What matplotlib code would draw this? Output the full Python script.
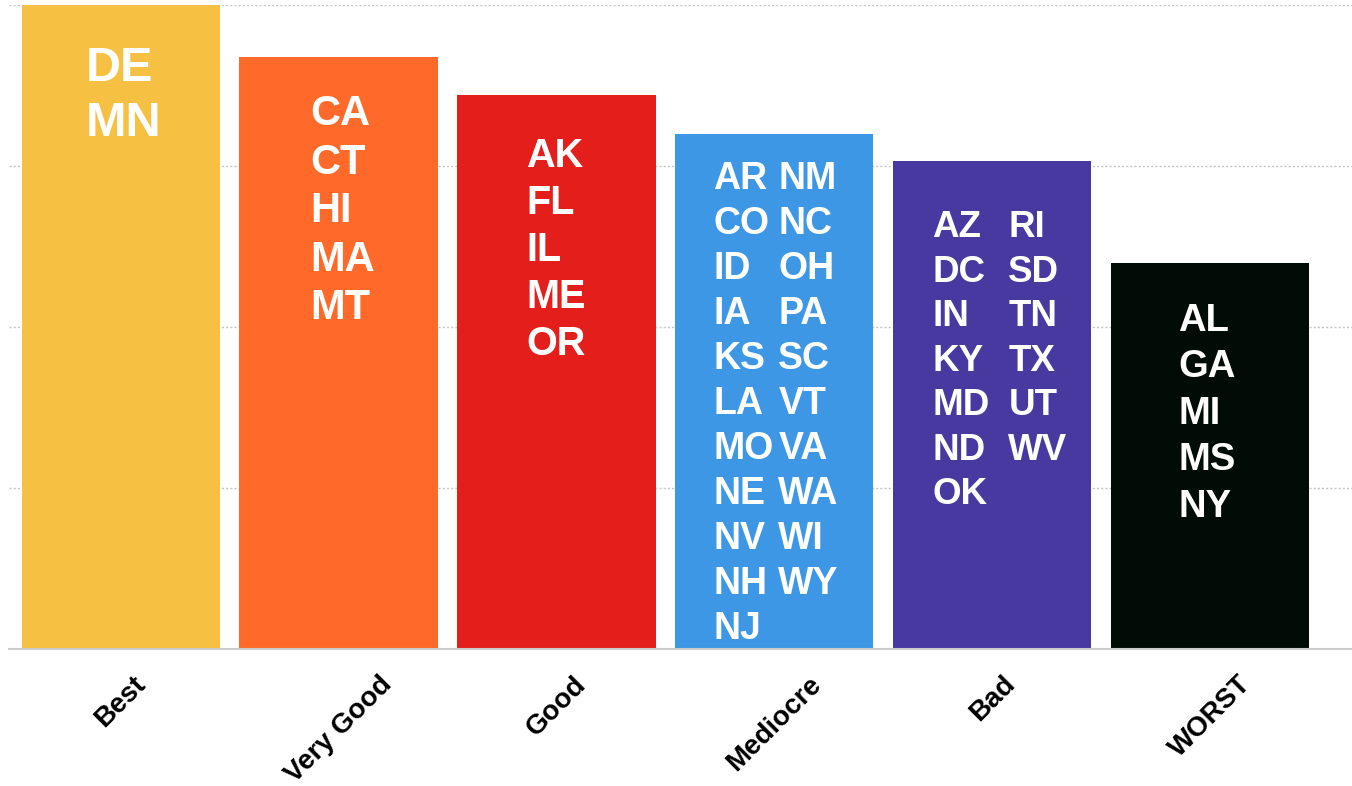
import numpy as np
import matplotlib
matplotlib.use("Agg")
import matplotlib.pyplot as plt

# ---- data ----
categories = ["Best", "Very Good", "Good", "Mediocre", "Bad", "WORST"]
scores = [4.0, 3.675, 3.44, 3.20, 3.03, 2.40]
states = [
    ["DE", "MN"],
    ["CA", "CT", "HI", "MA", "MT"],
    ["AK", "FL", "IL", "ME", "OR"],
    ["AR", "CO", "ID", "IA", "KS", "LA", "MO", "NE", "NV", "NH", "NJ",
     "NM", "NC", "OH", "PA", "SC", "VT", "VA", "WA", "WI", "WY"],
    ["AZ", "DC", "IN", "KY", "MD", "ND", "OK",
     "RI", "SD", "TN", "TX", "UT", "WV"],
    ["AL", "GA", "MI", "MS", "NY"],
]

colors = ["#F6C142", "#FF6A2A", "#E41E1A", "#3D97E4", "#4739A0", "#020C06"]

# label style per bar (pixels): font size pt, first baseline below bar top,
# line step, column x offsets from bar centre
label_style = [
    (35, 76, 55, [-35]),
    (30, 68, 48.5, [-28]),
    (28.5, 72, 47, [-30]),
    (27, 55, 45, [-61, 4]),
    (26.5, 76, 44.5, [-60, 16]),
    (27.5, 68, 46.5, [-32]),
]

W, H, DPI = 1352, 786, 100
PX = 72.0 / DPI  # px -> points

plt.rcParams["font.family"] = ["Liberation Sans", "DejaVu Sans"]

fig = plt.figure(figsize=(W / DPI, H / DPI), dpi=DPI)
ax = fig.add_axes([9 / W, 1 - 649 / H, 1 - 9 / W, (649 - 5) / H])

x = np.arange(len(categories))
ax.bar(x, scores, width=0.909, color=colors, zorder=2)

ax.set_xlim(-0.512, 5.65)
ax.set_ylim(0, 4)
ax.set_yticks([1, 2, 3, 4])
ax.yaxis.grid(True, color="#c4c4c4", ls=(0, (1.5, 1.5)), lw=1, zorder=0)
ax.tick_params(axis="y", length=0, labelleft=False)
for s in ["top", "right", "left"]:
    ax.spines[s].set_visible(False)
ax.spines["bottom"].set_color("#cccccc")
ax.spines["bottom"].set_linewidth(1.5)
ax.spines["bottom"].set_zorder(3)

ax.set_xticks(x)
ax.set_xticklabels(categories, rotation=45, ha="center", va="top",
                   fontsize=20, fontweight="bold")
ax.tick_params(axis="x", length=0, pad=16)

# ---- state labels inside bars ----
for i, (names, (fs, first, step, cols)) in enumerate(zip(states, label_style)):
    per_col = int(np.ceil(len(names) / len(cols)))
    for c, dx in enumerate(cols):
        for r, name in enumerate(names[c * per_col:(c + 1) * per_col]):
            ax.annotate(name, xy=(x[i], scores[i]),
                        xytext=(dx * PX, -(first + r * step) * PX),
                        textcoords="offset points", ha="left", va="baseline",
                        color="white", fontsize=fs, fontweight="bold",
                        zorder=4)

fig.savefig("out.png", dpi=DPI)
